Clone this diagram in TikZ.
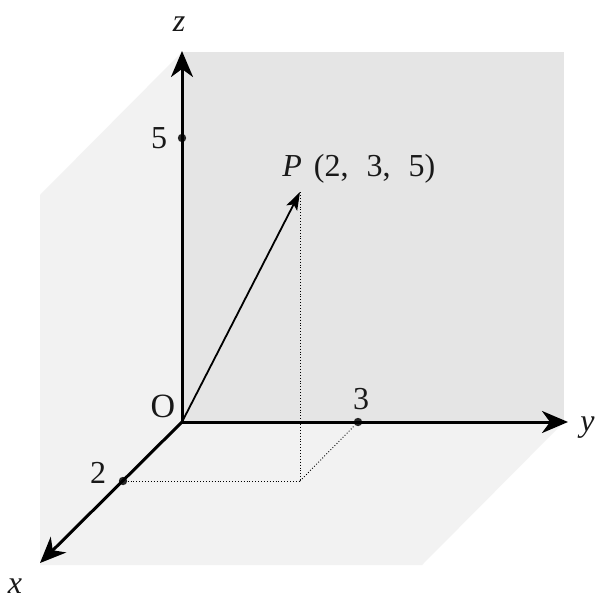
\documentclass[tikz,border=0pt]{standalone}
\usepackage{fontspec}
\setmainfont{Liberation Serif}
\usetikzlibrary{arrows.meta}
\begin{document}
\begin{tikzpicture}[x=0.5pt,y=-0.5pt,
  axis/.style={line width=1.5pt,-{Stealth[length=13pt,width=11pt,inset=4pt]}},
  vec/.style={line width=0.9pt,-{Stealth[length=9pt,width=6pt,inset=2pt]}},
  guide/.style={line width=0.45pt,densely dotted},
  tick/.style={circle,fill=black!85,inner sep=0pt,minimum size=4.2pt},
  lbl/.style={font=\fontsize{16}{18}\selectfont,inner sep=0pt,text=black!90},
  wall/.style={fill=black!10,draw=none},
  side/.style={fill=black!5,draw=none}]
\useasboundingbox (0,0) rectangle (597,600);
\fill[white] (0,0) rectangle (597,600);
% shaded faces
\path[side] (182,52) -- (182,422) -- (40,565) -- (40,195) -- cycle;
\path[side] (182,422) -- (564,422) -- (422,565) -- (40,565) -- cycle;
\path[wall] (182,52) rectangle (564,422);
% points
\coordinate (O) at (182,422);
\coordinate (ztip) at (182,51);
\coordinate (ytip) at (568,422);
\coordinate (xtip) at (40,563);
\coordinate (P) at (300,192);
\coordinate (Pfoot) at (300,481);
\node[tick] (z5) at (182,138) {};
\node[tick] (y3) at (358,422) {};
\node[tick] (x2) at (123,481) {};
% guide lines
\draw[guide] (P) -- (Pfoot);
\draw[guide] (x2) -- (Pfoot);
\draw[guide] (Pfoot) -- (y3);
% axes
\draw[axis] (O) -- (ztip);
\draw[axis] (O) -- (ytip);
\draw[axis] (O) -- (xtip);
\draw[vec] (O) -- (P);
% labels
\node[lbl] (lz) at (179,24) {\textit{z}};
\node[lbl] (ly) [anchor=east] at (595,428) {\textit{y}};
\node[lbl] (lx) at (15,586) {\textit{x}};
\node[lbl] (l5) at (159,138) {5};
\node[lbl] (l3) at (361,399) {3};
\node[lbl] (l2) at (98,473) {2};
\node[lbl,font=\fontsize{17}{18}\selectfont] (lO) at (163,406) {O};
\node[lbl,anchor=base west] (lP) at (282,176) {\textit{P}\hspace{6pt}(2,\hspace{9pt}3,\hspace{9pt}5)};
\end{tikzpicture}
\end{document}
